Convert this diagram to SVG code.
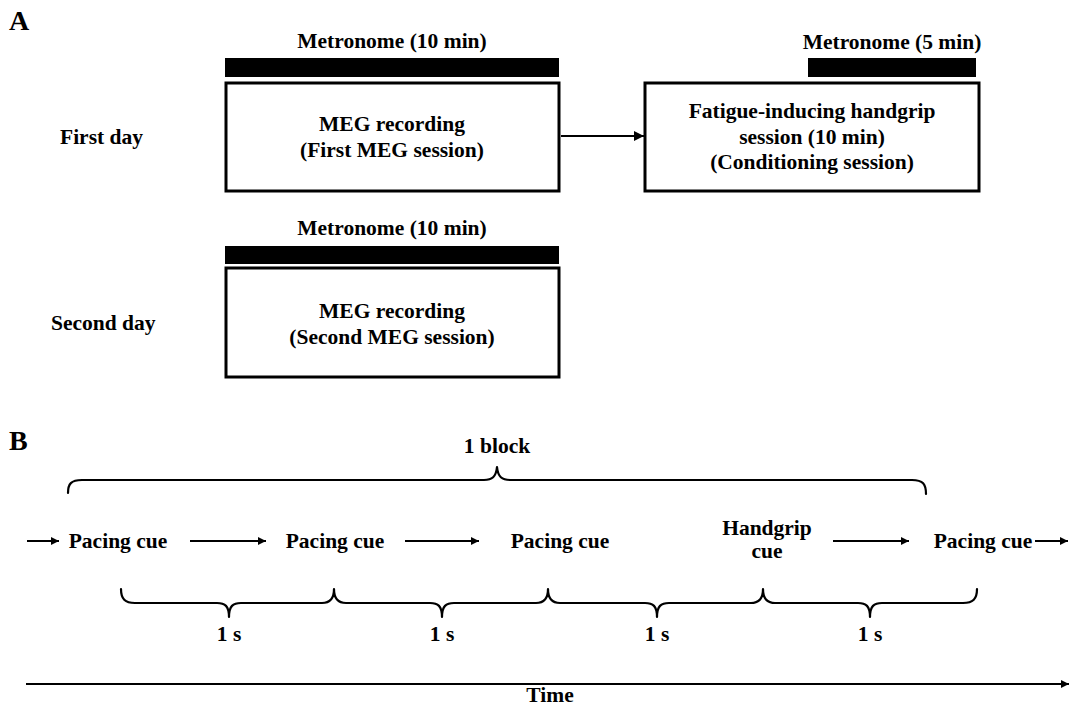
<svg xmlns="http://www.w3.org/2000/svg" width="1070" height="706" viewBox="0 0 1070 706">
<defs>
<style>
text{font-family:"Liberation Serif","Times New Roman",serif;font-weight:bold;fill:#000;font-size:21.5px}
.c{text-anchor:middle}
.lbl{font-size:28px}
.box{fill:#fff;stroke:#000;stroke-width:3}
.bar{fill:#000}
.ln{fill:none;stroke:#000;stroke-width:2}
.brace{fill:none;stroke:#000;stroke-width:2.2;stroke-linejoin:round;stroke-linecap:round}
</style>
<marker id="ah" viewBox="0 0 10 10" refX="10" refY="5" markerUnits="userSpaceOnUse" markerWidth="10" markerHeight="8" orient="auto">
<path d="M0,0 L10,5 L0,10 z" fill="#000"/>
</marker>
<marker id="ahL" viewBox="0 0 10 10" refX="10" refY="5" markerUnits="userSpaceOnUse" markerWidth="12" markerHeight="10" orient="auto">
<path d="M0,0 L10,5 L0,10 z" fill="#000"/>
</marker>
</defs>
<rect width="1070" height="706" fill="#fff"/>

<text id="labelA" class="lbl" x="9" y="30">A</text>
<text id="labelB" class="lbl" x="9" y="450">B</text>

<g id="day1">
<text x="60" y="144">First day</text>
</g>
<g id="day2">
<text x="51" y="330">Second day</text>
</g>

<g id="metro1">
<text class="c" x="392" y="48">Metronome (10 min)</text>
<rect class="bar" x="225" y="58" width="334" height="19"/>
</g>
<g id="meg1">
<rect class="box" x="226" y="83" width="333" height="108"/>
<text class="c" x="392" y="131">MEG recording</text>
<text class="c" x="392" y="157">(First MEG session)</text>
</g>

<g id="metro2">
<text class="c" x="892" y="49">Metronome (5 min)</text>
<rect class="bar" x="808" y="58" width="168" height="19"/>
</g>
<g id="fatigue">
<rect class="box" x="645" y="83" width="334" height="108"/>
<text class="c" x="812" y="118">Fatigue-inducing handgrip</text>
<text class="c" x="812" y="144">session (10 min)</text>
<text class="c" x="812" y="169">(Conditioning session)</text>
</g>

<g id="metro3">
<text class="c" x="392" y="235">Metronome (10 min)</text>
<rect class="bar" x="225" y="246" width="334" height="18"/>
</g>
<g id="meg2">
<rect class="box" x="226" y="268" width="333" height="109"/>
<text class="c" x="392" y="318">MEG recording</text>
<text class="c" x="392" y="344">(Second MEG session)</text>
</g>

<g id="block">
<text class="c" x="497" y="453">1 block</text>
<path class="brace" d="M68,493 C68,484 71,480 82,480 L484,480 C492,480 496,477 497,467 C498,477 502,480 510,480 L912,480 C923,480 926,484 926,494"/>
</g>

<g id="cue1"><text class="c" x="118" y="548">Pacing cue</text></g>
<g id="cue2"><text class="c" x="335" y="548">Pacing cue</text></g>
<g id="cue3"><text class="c" x="560" y="548">Pacing cue</text></g>
<g id="cue4"><text class="c" x="767" y="535">Handgrip</text><text class="c" x="767" y="558">cue</text></g>
<g id="cue5"><text class="c" x="983" y="548">Pacing cue</text></g>

<g id="intervals">
<path class="brace" d="M121,589 C121,599 125,603 135,603 L217,603 C225,603 229,606 229,617 C229,606 233,603 241,603 L322,603 C330,603 334,599 334,589 C334,599 338,603 346,603 L430,603 C438,603 442,606 442,617 C442,606 446,603 454,603 L536,603 C544,603 548,599 548,589 C548,599 552,603 560,603 L645,603 C653,603 657,606 657,617 C657,606 661,603 669,603 L751,603 C759,603 763,599 763,589 C763,599 767,603 775,603 L858,603 C866,603 870,606 870,617 C870,606 874,603 882,603 L963,603 C973,603 977,599 977,589"/>
<text class="c" x="229" y="641">1 s</text>
<text class="c" x="442" y="641">1 s</text>
<text class="c" x="657" y="641">1 s</text>
<text class="c" x="870" y="641">1 s</text>
</g>

<g id="connectors">
<line class="ln" x1="561" y1="136" x2="644" y2="136" stroke-width="2.6" marker-end="url(#ahL)"/>
<line class="ln" x1="27" y1="541" x2="59" y2="541" marker-end="url(#ah)"/>
<line class="ln" x1="190" y1="541" x2="266" y2="541" marker-end="url(#ah)"/>
<line class="ln" x1="405" y1="541" x2="479" y2="541" marker-end="url(#ah)"/>
<line class="ln" x1="833" y1="541" x2="909" y2="541" marker-end="url(#ah)"/>
<line class="ln" x1="1035" y1="541" x2="1068" y2="541" marker-end="url(#ah)"/>
<line class="ln" x1="26" y1="684" x2="1069" y2="684" stroke-width="2.5" marker-end="url(#ah)"/>
</g>
<g id="timeLabel"><text class="c" x="550" y="702">Time</text></g>
</svg>
